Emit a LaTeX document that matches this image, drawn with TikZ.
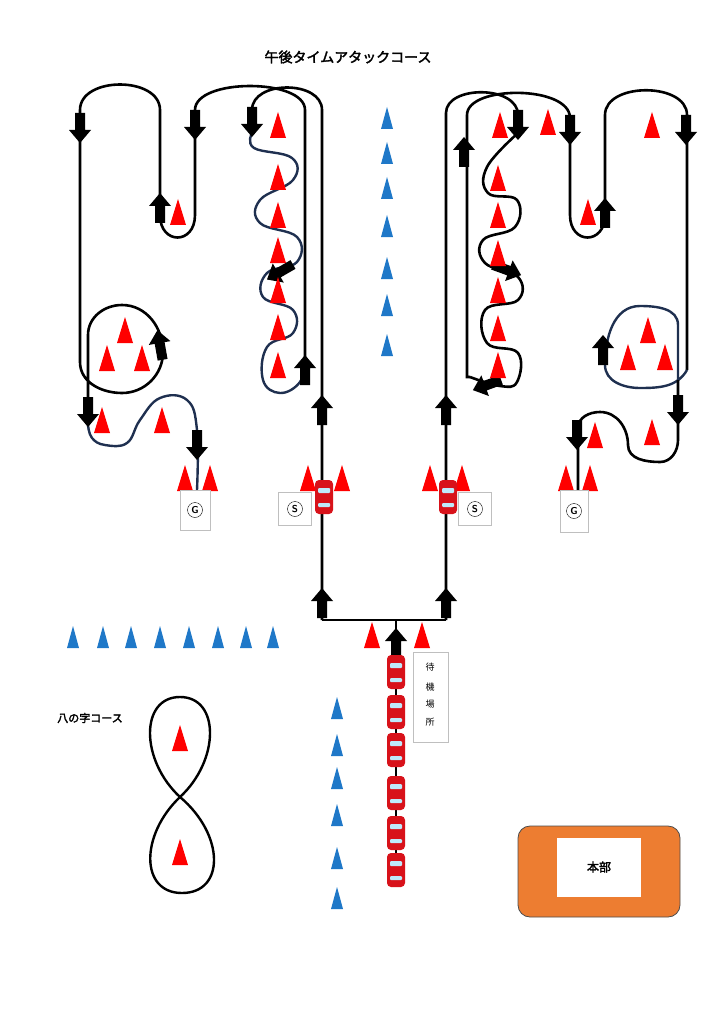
\documentclass[tikz,border=0pt]{standalone}
\usepackage{fontspec}
\newfontfamily\cjk{Noto Sans CJK JP}[AutoFakeBold=2.5]
\definecolor{conered}{HTML}{FF0000}
\definecolor{coneblue}{HTML}{1F78C8}
\definecolor{navy}{HTML}{1F3050}
\definecolor{hq}{HTML}{ED7D31}
\definecolor{carred}{HTML}{D8121A}
\tikzset{
  cone/.pic={\fill[conered] (-8,13)--(8,13)--(0,-13)--cycle;},
  bcone/.pic={\fill[coneblue] (-6,11)--(6,11)--(0,-11)--cycle;},
  darr/.pic={\fill[black] (-5,-15)--(5,-15)--(5,2)--(11,2)--(0,15)--(-11,2)--(-5,2)--cycle;},
  car/.pic={\fill[carred,rounded corners=4pt] (-9,-17) rectangle (9,17);
    \fill[cyan!25,rounded corners=1pt] (-6,-9) rectangle (6,-4); \fill[cyan!25,rounded corners=1pt] (-6,6) rectangle (6,10);},
  crs/.style={line width=2.6pt,black},
  snk/.style={line width=2.4pt,navy},
  box/.style={draw=black!25,fill=white,line width=0.6pt},
  lbl/.style={font=\cjk\fontsize{11}{13}\selectfont}
}
\begin{document}
\begin{tikzpicture}[x=1pt,y=-1pt]
\useasboundingbox (0,0) rectangle (724,1024);
\node[font=\cjk\bfseries\fontsize{14}{16}\selectfont] (title) at (348,57) {午後タイムアタックコース};
% ---- left course
\draw[crs] (322,620) -- (322,110) .. controls (322,80) and (252,80) .. (252,110) -- (252,133);
\draw[snk] plot[smooth,tension=0.7] coordinates {(252,133) (254,148) (292,158) (293,180) (260,200) (260,223) (297,237) (297,262) (267,273) (263,297) (293,310) (293,333) (267,347) (263,380) (280,393) (300,382) (305,360)};
\draw[crs] (305,360) -- (305,110) .. controls (305,78) and (195,78) .. (195,110) -- (195,215) .. controls (195,245) and (160,245) .. (160,215) -- (160,110) .. controls (160,76) and (80,76) .. (80,110) -- (80,362) to[out=-90,in=180] (122,393) to[out=0,in=-90] (163,352) to[out=90,in=0] (122,305) to[out=180,in=90] (88,335) -- (88,425);
\draw[snk] plot[smooth,tension=0.7] coordinates {(88,425) (92,438) (105,445) (127,443) (140,420) (160,398) (187,400) (197,430) (197,490)};
% ---- right course
\draw[crs] (446,620) -- (446,113) .. controls (446,85) and (518,85) .. (518,115) -- (518,133);
\draw[crs] plot[smooth,tension=0.7] coordinates {(518,133) (487,167) (488,193) (517,200) (515,227) (483,240) (485,263) (518,277) (518,300) (485,310) (487,343) (518,353) (517,382) (500,386) (470,377)};
\draw[crs] (470,377) -- (467,377) -- (467,115) .. controls (467,85) and (570,85) .. (570,118) -- (570,215) .. controls (570,245) and (605,245) .. (605,215) -- (605,115) .. controls (605,82) and (687,82) .. (687,115) -- (687,370);
\draw[snk] (687,370) to[out=-120,in=0] (640,388) to[out=180,in=-90] (605,365) to[out=90,in=180] (640,306) to[out=0,in=90] (678,325) -- (678,380);
\draw[crs] (678,380) -- (678,440) to[out=-90,in=0] (660,462) to[out=180,in=-90] (628,445) to[out=90,in=0] (600,412) to[out=180,in=90] (578,428) -- (578,490);
% ---- fork and queue
\draw[crs] (322,620) -- (446,620);
\draw[crs] (396,620) -- (396,875);
% arrows
\foreach \x/\y/\r in {80/128/0,195/125/0,252/122/0,160/208/180,305/370/180,322/410/180,160/345/190,88/412/0,197/445/0,
  518/125/0,570/130/0,686/130/0,464/152/180,605/213/180,446/410/180,603/350/180,678/410/0,577/435/0,
  322/603/180,446/603/180,396/643/180}
  \pic[rotate=\r] at (\x,\y) {darr};
\pic[rotate=-60] at (280,272) {darr};
\pic[rotate=70] at (507,270) {darr};
\pic[rotate=-70] at (487,385) {darr};
% red cones
\foreach \x/\y in {278/125,278/177,278/215,278/250,278/290,278/327,278/365,178/212,125/330,107/358,142/358,102/420,162/420,
  185/478,210/478,308/478,342/478,430/478,462/478,566/478,590/478,500/125,548/122,652/125,
  498/178,498/215,498/253,498/290,498/328,498/365,588/212,648/330,628/357,665/357,595/435,652/432,372/635,422/635,180/738,180/852}
  \pic at (\x,\y) {cone};
% blue cones
\foreach \x in {73,103,131,160,189,218,246,273} \pic at (\x,637) {bcone};
\foreach \y in {118,153,188,226,268,305,345} \pic at (387,\y) {bcone};
\foreach \y in {708,745,778,815,858,898} \pic at (337,\y) {bcone};
% cars
\foreach \x/\y in {324/497,448/497,396/672,396/712,396/750,396/793,396/833,396/870} \pic at (\x,\y) {car};
% boxes
\node[box,minimum width=30pt,minimum height=40pt] (g1) at (195,510) {};
\node[box,minimum width=28pt,minimum height=42pt] (g2) at (574,511) {};
\node[box,minimum width=33pt,minimum height=33pt] (s1) at (295,509) {};
\node[box,minimum width=33pt,minimum height=33pt] (s2) at (475,509) {};
\foreach \n/\t in {g1/G,g2/G,s1/S,s2/S}
  \node[circle,draw,inner sep=0pt,minimum size=15pt,font=\sffamily\bfseries\fontsize{10}{10}\selectfont] at (\n) {\t};
\node[box,minimum width=35pt,minimum height=90pt] (wait) at (430.5,697) {};
\foreach \t/\y in {待/667,機/687,場/704,所/722} \node[lbl,font=\cjk\fontsize{9}{10}\selectfont] at (430,\y) {\t};
% figure eight
\draw[crs,line width=2.4pt] (180,797) .. controls (140,760) and (140,697) .. (180,697) .. controls (220,697) and (220,760) .. (180,797) .. controls (140,835) and (140,893) .. (182,893) .. controls (225,893) and (225,835) .. (180,797);
\node[lbl,font=\cjk\bfseries\fontsize{11}{13}\selectfont] (eight) at (90,718) {八の字コース};
% HQ
\draw[fill=hq,draw=black!70,line width=0.8pt,rounded corners=12pt] (518,826) rectangle (680,917);
\node[fill=white,minimum width=84pt,minimum height=59pt,font=\cjk\bfseries\fontsize{12}{14}\selectfont] (hq) at (599,867) {本部};
\end{tikzpicture}
\end{document}
